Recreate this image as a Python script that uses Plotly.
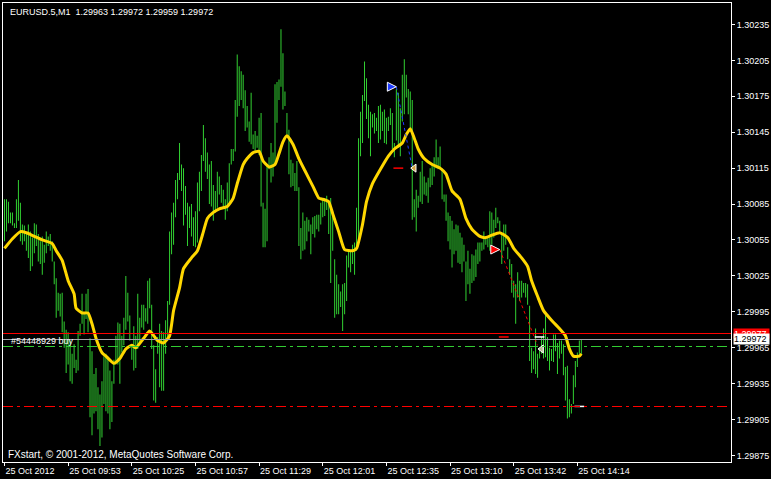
import plotly.graph_objects as go

# ---------------- data ----------------
symbol_title = "EURUSD.5,M1  1.29963 1.29972 1.29959 1.29972"
order_label = "#54448929 buy"
copyright_text = "FXstart, \u00a9 2001-2012, MetaQuotes Software Corp."

time_labels = ["25 Oct 2012", "25 Oct 09:53", "25 Oct 10:25", "25 Oct 10:57",
               "25 Oct 11:29", "25 Oct 12:01", "25 Oct 12:35", "25 Oct 13:10",
               "25 Oct 13:42", "25 Oct 14:14"]
time_label_bars = [0, 32, 64, 96, 128, 160, 192, 224, 256, 288]

bar_high = [
    1.30089, 1.30089, 1.30087, 1.30078, 1.30078, 1.30069, 1.30089, 1.30105, 1.30086, 1.30068,
    1.30067, 1.30061, 1.30068, 1.30062, 1.30057, 1.30069, 1.30068, 1.30060, 1.30054, 1.30058,
    1.30051, 1.30062, 1.30058, 1.30060, 1.30054, 1.30037, 1.30023, 1.30011, 1.30010, 1.30011,
    1.29987, 1.29980, 1.29978, 1.29971, 1.29960, 1.29968, 1.29955, 1.29979, 1.29985, 1.30010,
    1.29994, 1.30010, 1.30014, 1.29973, 1.29962, 1.29943, 1.29948, 1.29932, 1.29926, 1.29937,
    1.29958, 1.29960, 1.29957, 1.29946, 1.29937, 1.29955, 1.29975, 1.29986, 1.29985, 1.29975,
    1.29990, 1.30025, 1.30011, 1.29992, 1.29968, 1.29983, 1.29975, 1.30010, 1.29990, 1.30001,
    1.30001, 1.29998, 1.30021, 1.30023,
    1.30001, 1.29967, 1.29947, 1.29974, 1.29985, 1.29979, 1.29978, 1.29988, 1.30004, 1.30062,
    1.30078, 1.30086, 1.30105, 1.30111, 1.30136, 1.30118, 1.30115, 1.30100, 1.30086, 1.30083,
    1.30085, 1.30074, 1.30079, 1.30103, 1.30112, 1.30126, 1.30151, 1.30140, 1.30128, 1.30118,
    1.30121, 1.30101, 1.30096, 1.30112, 1.30108, 1.30101, 1.30097, 1.30089, 1.30103, 1.30119,
    1.30131, 1.30131, 1.30172, 1.30210, 1.30200, 1.30196, 1.30193, 1.30180, 1.30167, 1.30154,
    1.30178, 1.30143, 1.30146, 1.30142, 1.30157, 1.30161, 1.30086, 1.30081, 1.30117, 1.30124,
    1.30136, 1.30128, 1.30185, 1.30187, 1.30189, 1.30231, 1.30211, 1.30179, 1.30161, 1.30147,
    1.30122, 1.30119, 1.30111, 1.30121, 1.30099,
    1.30065, 1.30078, 1.30071, 1.30074, 1.30072, 1.30068, 1.30074, 1.30075, 1.30076, 1.30076,
    1.30086, 1.30090, 1.30090, 1.30092, 1.30087, 1.30090, 1.30078, 1.30039, 1.30026, 1.30018,
    1.30012, 1.30018, 1.30019, 1.30042, 1.30046, 1.30046, 1.30051, 1.30053, 1.30082, 1.30140,
    1.30162, 1.30176, 1.30204, 1.30190, 1.30168, 1.30162, 1.30160, 1.30161, 1.30157, 1.30167,
    1.30168, 1.30162, 1.30164, 1.30157, 1.30158, 1.30165, 1.30161, 1.30136, 1.30181, 1.30178,
    1.30165, 1.30193, 1.30206, 1.30193, 1.30181, 1.30179, 1.30172, 1.30089, 1.30097, 1.30092,
    1.30112, 1.30121, 1.30108, 1.30103, 1.30107, 1.30115, 1.30119, 1.30124, 1.30139, 1.30124,
    1.30133, 1.30115, 1.30093, 1.30093, 1.30078,
    1.30075, 1.30071, 1.30064, 1.30068, 1.30067, 1.30061, 1.30057, 1.30051, 1.30037, 1.30046,
    1.30031, 1.30043, 1.30042, 1.30047, 1.30053, 1.30053, 1.30053, 1.30062, 1.30058, 1.30057,
    1.30079, 1.30078, 1.30072, 1.30082, 1.30074, 1.30071, 1.30060, 1.30068, 1.30068, 1.30049,
    1.30039, 1.30035, 1.30021, 1.30018, 1.30028, 1.30021, 1.30021, 1.30019, 1.30019, 1.30018,
    1.30000, 1.29965, 1.29962, 1.29981, 1.29960, 1.29965, 1.29974, 1.29981, 1.29993, 1.29974,
    1.29965, 1.29964, 1.29976, 1.29976, 1.29969, 1.29971, 1.29971, 1.29968, 1.29949, 1.29950,
    1.29922, 1.29918, 1.29942, 1.29954, 1.29961, 1.29971, 1.29972,
]

bar_low = [
    1.30054, 1.30062, 1.30069, 1.30069, 1.30067, 1.30065, 1.30065, 1.30071, 1.30054, 1.30051,
    1.30054, 1.30046, 1.30040, 1.30029, 1.30033, 1.30044, 1.30050, 1.30037, 1.30035, 1.30026,
    1.30036, 1.30044, 1.30050, 1.30046, 1.30037, 1.30018, 1.29990, 1.29996, 1.29991, 1.29978,
    1.29965, 1.29944, 1.29951, 1.29937, 1.29935, 1.29948, 1.29944, 1.29946, 1.29975, 1.29985,
    1.29976, 1.29989, 1.29978, 1.29907, 1.29892, 1.29910, 1.29912, 1.29897, 1.29883, 1.29890,
    1.29918, 1.29912, 1.29910, 1.29897, 1.29903, 1.29935, 1.29951, 1.29951, 1.29935, 1.29961,
    1.29967, 1.29980, 1.29987, 1.29971, 1.29955, 1.29946, 1.29948, 1.29964, 1.29969, 1.29982,
    1.29980, 1.29987, 1.29985, 1.29998,
    1.29964, 1.29921, 1.29919, 1.29960, 1.29932, 1.29929, 1.29929, 1.29960, 1.29971, 1.30001,
    1.30043, 1.30051, 1.30074, 1.30089, 1.30105, 1.30096, 1.30067, 1.30076, 1.30050, 1.30065,
    1.30058, 1.30050, 1.30049, 1.30053, 1.30079, 1.30096, 1.30121, 1.30112, 1.30106, 1.30085,
    1.30083, 1.30071, 1.30078, 1.30082, 1.30093, 1.30086, 1.30083, 1.30072, 1.30079, 1.30086,
    1.30118, 1.30121, 1.30129, 1.30158, 1.30167, 1.30172, 1.30165, 1.30146, 1.30149, 1.30137,
    1.30135, 1.30131, 1.30128, 1.30132, 1.30126, 1.30083, 1.30049, 1.30049, 1.30054, 1.30114,
    1.30103, 1.30108, 1.30119, 1.30153, 1.30172, 1.30183, 1.30164, 1.30167, 1.30143, 1.30110,
    1.30099, 1.30100, 1.30096, 1.30096, 1.30050,
    1.30039, 1.30046, 1.30047, 1.30054, 1.30062, 1.30043, 1.30060, 1.30057, 1.30064, 1.30062,
    1.30068, 1.30074, 1.30075, 1.30080, 1.30060, 1.30019, 1.30046, 1.29990, 1.29993, 1.29993,
    1.29999, 1.29979, 1.29993, 1.30004, 1.30032, 1.30028, 1.30035, 1.30026, 1.30046, 1.30051,
    1.30125, 1.30136, 1.30171, 1.30156, 1.30140, 1.30125, 1.30149, 1.30144, 1.30146, 1.30136,
    1.30139, 1.30146, 1.30136, 1.30135, 1.30146, 1.30151, 1.30131, 1.30124, 1.30138, 1.30132,
    1.30125, 1.30154, 1.30160, 1.30174, 1.30160, 1.30146, 1.30072, 1.30074, 1.30062, 1.30082,
    1.30087, 1.30085, 1.30093, 1.30092, 1.30086, 1.30099, 1.30101, 1.30108, 1.30115, 1.30114,
    1.30114, 1.30089, 1.30087, 1.30071, 1.30054,
    1.30047, 1.30032, 1.30043, 1.30046, 1.30036, 1.30035, 1.30028, 1.30037, 1.30004, 1.30018,
    1.30010, 1.30019, 1.30021, 1.30024, 1.30035, 1.30037, 1.30046, 1.30047, 1.30051, 1.30049,
    1.30046, 1.30051, 1.30057, 1.30065, 1.30069, 1.30062, 1.30035, 1.30046, 1.30051, 1.30039,
    1.30026, 1.30011, 1.30007, 1.29985, 1.30007, 1.30004, 1.30007, 1.30011, 1.30007, 1.30001,
    1.29954, 1.29944, 1.29947, 1.29943, 1.29940, 1.29956, 1.29960, 1.29956, 1.29957, 1.29954,
    1.29946, 1.29954, 1.29953, 1.29962, 1.29943, 1.29956, 1.29960, 1.29942, 1.29921, 1.29906,
    1.29907, 1.29910, 1.29918, 1.29932, 1.29949, 1.29960, 1.29959,
]

ma_bar = [
    0, 4, 8, 11, 15, 19, 24, 26, 29, 32,
    35, 36, 39, 42, 44, 46, 49, 51, 55, 58,
    61, 64, 66, 70, 73, 77, 80, 83, 85, 88,
    90, 94, 97, 100, 102, 105, 108, 112, 115, 117,
    120, 122, 125, 128, 130, 133, 136, 138, 140, 142,
    145, 148, 151, 155, 158, 160, 163, 165, 168, 171,
    175, 177, 180, 182, 185, 189, 193, 196, 200, 202,
    204, 206, 208, 211, 215, 219, 222, 225, 229, 232,
    235, 239, 242, 245, 249, 253, 256, 260, 263, 265,
    268, 271, 275, 279, 282, 284, 286, 289, 290,
]
ma_price = [
    1.30048, 1.30056, 1.30062, 1.30061, 1.30058, 1.30055, 1.30052, 1.30046, 1.30038, 1.30021,
    1.30010, 1.29998, 1.29994, 1.29994, 1.29985, 1.29973, 1.29961, 1.29958, 1.29952, 1.29956,
    1.29964, 1.29967, 1.29965, 1.29973, 1.29979, 1.29971, 1.29969, 1.29975, 1.29996, 1.30015,
    1.30031, 1.30040, 1.30046, 1.30062, 1.30073, 1.30078, 1.30081, 1.30083, 1.30090, 1.30102,
    1.30118, 1.30123, 1.30128, 1.30129, 1.30121, 1.30116, 1.30118, 1.30127, 1.30137, 1.30142,
    1.30135, 1.30123, 1.30113, 1.30100, 1.30090, 1.30089, 1.30087, 1.30077, 1.30062, 1.30047,
    1.30046, 1.30048, 1.30068, 1.30087, 1.30102, 1.30114, 1.30125, 1.30131, 1.30136, 1.30143,
    1.30148, 1.30140, 1.30131, 1.30123, 1.30118, 1.30115, 1.30110, 1.30096, 1.30089, 1.30073,
    1.30064, 1.30058, 1.30057, 1.30059, 1.30061, 1.30057, 1.30048, 1.30040, 1.30033, 1.30021,
    1.30008, 1.29996, 1.29988, 1.29981, 1.29975, 1.29964, 1.29958, 1.29958, 1.29960,
]

# price levels
ask_price = 1.29977
bid_price = 1.29972
order_open_price = 1.29966
stop_loss_price = 1.29916

# trades: open / close
trade_open_bar = [197, 249]
trade_open_price = [1.30183, 1.30047]
trade_close_bar = [205, 268]
trade_close_price = [1.30115, 1.29967]
trade_color = ["#1E3CFF", "#FF0000"]
close_mark_bar = [206, 270]
close_mark_price = [1.30115, 1.29964]
close_mark_color = ["#D4A040", "#B8B890"]

# small level dashes
dash_bar = [198, 251, 269, 289]
dash_price = [1.30115, 1.29974, 1.29974, 1.29916]
dash_color = ["#FF0000", "#FF0000", "#FFFFFF", "#FFFFFF"]

# ---------------- figure ----------------
FONT = "Liberation Sans, Arial, sans-serif"
bar_index = list(range(len(bar_high)))
bar_span = [h - l for h, l in zip(bar_high, bar_low)]

fig = go.Figure()
fig.add_trace(go.Bar(x=bar_index, y=bar_span, base=bar_low, width=0.5,
                     marker=dict(color="#32D232", line=dict(width=0)),
                     hoverinfo="skip"))
fig.add_trace(go.Scatter(x=ma_bar, y=ma_price, mode="lines",
                         line=dict(color="#FFD700", width=3, shape="spline", smoothing=0.5),
                         hoverinfo="skip"))

for k in range(len(trade_open_bar)):
    fig.add_trace(go.Scatter(x=[trade_open_bar[k], trade_close_bar[k]],
                             y=[trade_open_price[k], trade_close_price[k]],
                             mode="lines", line=dict(color=trade_color[k], width=1, dash="dot"),
                             hoverinfo="skip"))
    fig.add_trace(go.Scatter(x=[trade_open_bar[k]], y=[trade_open_price[k]], mode="markers",
                             marker=dict(symbol="arrow-right", size=9, color=trade_color[k],
                                         line=dict(color="white", width=1)),
                             hoverinfo="skip"))
    fig.add_trace(go.Scatter(x=[close_mark_bar[k]], y=[close_mark_price[k]], mode="markers",
                             marker=dict(symbol="triangle-left", size=7, color=close_mark_color[k],
                                         line=dict(color="white", width=1)),
                             hoverinfo="skip"))

fig.add_trace(go.Scatter(x=dash_bar, y=dash_price, mode="markers",
                         marker=dict(symbol="line-ew", size=7,
                                     line=dict(color=dash_color, width=1.5)),
                         hoverinfo="skip"))

shapes = [
    dict(type="line", xref="paper", x0=0, x1=1, yref="y", y0=ask_price, y1=ask_price,
         line=dict(color="#FF0000", width=1)),
    dict(type="line", xref="paper", x0=0, x1=1, yref="y", y0=bid_price, y1=bid_price,
         line=dict(color="#A0A4AC", width=1)),
    dict(type="line", xref="paper", x0=0, x1=1, yref="y", y0=order_open_price, y1=order_open_price,
         line=dict(color="#32CD32", width=1, dash="10px,4px,3px,4px")),
    dict(type="line", xref="paper", x0=0, x1=1, yref="y", y0=stop_loss_price, y1=stop_loss_price,
         line=dict(color="#FF0000", width=1, dash="10px,4px,3px,4px")),
]

annotations = [
    dict(text=symbol_title, xref="paper", yref="paper", x=0.007, y=0.9804,
         xanchor="left", yanchor="middle", showarrow=False,
         font=dict(family=FONT, size=9, color="white")),
    dict(text=order_label, xref="paper", yref="paper", x=0.008, y=0.263,
         xanchor="left", yanchor="middle", showarrow=False,
         font=dict(family=FONT, size=9, color="white")),
    dict(text=copyright_text, xref="paper", yref="paper", x=0.004, y=0.0174,
         xanchor="left", yanchor="middle", showarrow=False,
         font=dict(family=FONT, size=10, color="white")),
    dict(text=f"{ask_price:.5f}", xref="paper", yref="y", x=1.003, y=ask_price,
         xanchor="left", yanchor="middle", showarrow=False, bgcolor="#FF0000",
         borderpad=0, width=35, height=9, align="left",
         font=dict(family=FONT, size=9, color="white")),
    dict(text=f"{bid_price:.5f}", xref="paper", yref="y", x=1.003, y=bid_price,
         xanchor="left", yanchor="middle", showarrow=False, bgcolor="#FFFFFF",
         borderpad=0, width=35, height=10, align="left",
         font=dict(family=FONT, size=9, color="black")),
]

fig.update_layout(
    width=771, height=479,
    margin=dict(l=2, r=37, t=2, b=17),
    paper_bgcolor="black", plot_bgcolor="black",
    showlegend=False, barmode="overlay",
    shapes=shapes, annotations=annotations,
    xaxis=dict(range=[-0.75, 365.25], showgrid=False, zeroline=False,
               showline=True, mirror=True, linecolor="white", linewidth=1,
               tickmode="array", tickvals=time_label_bars, ticktext=time_labels,
               ticks="outside", ticklen=3, tickcolor="white", tickwidth=1,
               ticklabelposition="outside right",
               tickfont=dict(family=FONT, size=9, color="white")),
    yaxis=dict(range=[1.29869583, 1.30252917], side="right", showgrid=False, zeroline=False,
               showline=True, mirror=True, linecolor="white", linewidth=1,
               tickmode="linear", tick0=1.29875, dtick=0.0003, tickformat=".5f",
               ticks="outside", ticklen=3, tickcolor="white", tickwidth=1,
               tickfont=dict(family=FONT, size=9, color="white")),
)

fig.write_html(
    "out.html",
    config={"displayModeBar": False, "staticPlot": True},
    post_script=(
        "document.body.style.margin='0';document.body.style.background='black';"
        "document.querySelectorAll('.shapelayer path')"
        ".forEach(function(p){p.style.shapeRendering='crispEdges';});"
    ),
)
